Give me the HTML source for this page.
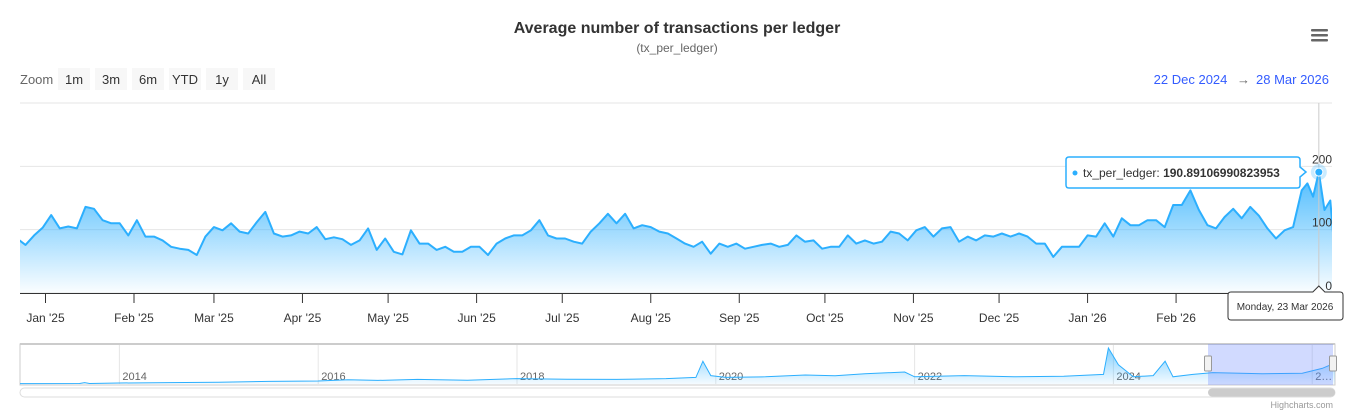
<!DOCTYPE html>
<html><head><meta charset="utf-8">
<style>
body{margin:0;background:#fff;font-family:"Liberation Sans",Arial,sans-serif;}
svg{display:block}
</style></head>
<body>
<svg id="c" width="1355" height="420" viewBox="0 0 1355 420">
<defs>
<linearGradient id="ag" x1="0" y1="0" x2="0" y2="1">
<stop offset="0" stop-color="#2caffe" stop-opacity="0.85"/>
<stop offset="1" stop-color="#2caffe" stop-opacity="0.02"/>
</linearGradient>
<linearGradient id="ng" x1="0" y1="0" x2="0" y2="1">
<stop offset="0" stop-color="#2caffe" stop-opacity="0.6"/>
<stop offset="1" stop-color="#2caffe" stop-opacity="0.05"/>
</linearGradient>
<clipPath id="pc"><rect x="20" y="95" width="1312" height="200"/></clipPath>
<clipPath id="nc"><rect x="20" y="343" width="1315" height="44"/></clipPath>
</defs>
<text x="677" y="33" text-anchor="middle" font-size="16" font-weight="bold" fill="#333">Average number of transactions per ledger</text>
<text x="677" y="52" text-anchor="middle" font-size="12" fill="#666">(tx_per_ledger)</text>
<g>
<rect x="1311" y="29" width="17" height="2.5" rx="1" fill="#666"/><rect x="1311" y="34" width="17" height="2.5" rx="1" fill="#666"/><rect x="1311" y="39" width="17" height="2.5" rx="1" fill="#666"/>
</g>
<text x="20" y="84" font-size="13" fill="#666">Zoom</text>
<g id="btns"></g>
<text x="1329" y="84" text-anchor="end" font-size="13" fill="#335cff">22 Dec 2024 <tspan fill="#666" dx="6">→</tspan><tspan dx="6">28 Mar 2026</tspan></text>
<g id="grid"></g>
<g id="plot" clip-path="url(#pc)"></g>
<g id="xax"></g>
<g id="nav"></g>
</svg>
<script>
// main series: day offsets from 22 Dec 2024 and values
const days=[0,3,6,9,12,15,18,21,24,27,30,33,36,39,42,45,48,51,54,57,60,63,66,69,72,75,78,81,84,87,90,93,96,99,102,105,108,111,114,117,120,123,126,129,132,135,138,141,144,147,150,153,156,159,162,165,168,171,174,177,180,183,186,189,192,195,198,201,204,207,210,213,216,219,222,225,228,231,234,237,240,243,246,249,252,255,258,261,264,267,270,273,276,279,282,285,288,291,294,297,300,303,306,309,312,315,318,321,324,327,330,333,336,339,342,345,348,351,354,357,360,363,366,369,372,375,378,381,384,387,390,393,396,399,402,405,408,411,414,417,420,423,426,429,432,435,438,441,444,447,450,452,454,456,458,460,461];
const values=[86,76,91,103,123,102,105,102,136,133,115,110,110,91,115,89,89,83,73,70,68,60,89,104,99,110,97,94,112,128,94,89,91,97,94,104,85,88,85,76,83,102,68,86,65,61,99,78,78,68,73,65,65,73,73,60,78,86,91,91,99,115,91,86,86,81,78,97,110,125,110,125,102,107,104,97,94,86,78,73,81,62,78,73,78,70,73,76,78,73,76,91,81,83,70,73,73,91,78,83,78,81,97,94,83,99,104,89,102,104,81,89,83,91,89,94,89,94,89,78,78,57,73,73,73,91,89,110,89,118,107,107,115,115,104,139,139,162,131,107,102,120,133,118,136,122,102,86,99,104,162,173,152,190.9,131,146,94];
const yTicks=[0,100,200,300];
const monthLabels=["Jan '25","Feb '25","Mar '25","Apr '25","May '25","Jun '25","Jul '25","Aug '25","Sep '25","Oct '25","Nov '25","Dec '25","Jan '26","Feb '26","Mar '26"];
const monthDays=[10,41,69,100,130,161,191,222,253,283,314,344,375,406,434];
// navigator: year fraction and value
const navYears=[2013,2013.6,2013.65,2013.7,2014,2014.5,2015,2015.5,2016,2016.3,2016.6,2017,2017.5,2018,2018.5,2019,2019.5,2019.8,2019.87,2019.95,2020.1,2020.5,2020.9,2021.2,2021.5,2021.9,2022,2022.5,2023,2023.5,2023.9,2023.95,2024.05,2024.2,2024.4,2024.52,2024.6,2024.8,2025,2025.5,2025.9,2026.1,2026.2,2026.24];
const navValues=[3,4,12,4,8,12,15,22,25,35,30,38,32,45,40,38,45,55,190,70,55,60,75,68,85,100,60,70,60,65,80,300,160,60,70,190,60,80,95,85,90,130,165,120];
const navYearTicks=[2014,2016,2018,2020,2022,2024,2026];

const NS="http://www.w3.org/2000/svg";
function mk(t,a,p){const e=document.createElementNS(NS,t);for(const k in a)e.setAttribute(k,a[k]);(p||document.getElementById('c')).appendChild(e);return e;}
const X=d=>45.5+(d-10)*2.855;
const Y=v=>293-v*0.6333;
const NX=y=>20+(y-2013)*99.4;
const NY=v=>384-v*0.12;

const bl=["1m","3m","6m","YTD","1y","All"];
const bg=document.getElementById('btns');
bl.forEach((b,i)=>{const x=58+i*37;
 const g=mk('g',{},bg);
 
 
 mk('rect',{x:x,y:68,width:32,height:22,fill:'#f7f7f7'},g);
 const t=mk('text',{x:x+16,y:84,'text-anchor':'middle','font-size':13,fill:'#333'},g);t.textContent=b;});

const gg=document.getElementById('grid');
yTicks.forEach(v=>{
 const l=mk('line',{x1:20,x2:1332,y1:Y(v),y2:Y(v),stroke:'#e6e6e6'},gg);
 
 
});

const pg=document.getElementById('plot');
let pts=days.map((d,i)=>X(d).toFixed(1)+','+Y(values[i]).toFixed(1));
const area=mk('path',{d:'M'+X(days[0])+','+Y(0)+' L'+pts.join(' L')+' L'+X(days[days.length-1])+','+Y(0)+'Z',fill:'url(#ag)'},pg);


const line=mk('path',{d:'M'+pts.join(' L'),fill:'none',stroke:'#2caffe','stroke-width':2,'stroke-linejoin':'round'},pg);



const xg=document.getElementById('xax');
mk('line',{x1:20,x2:1332,y1:293.5,y2:293.5,stroke:'#333'},xg);
monthDays.forEach((d,i)=>{
 mk('line',{x1:X(d),x2:X(d),y1:293,y2:303,stroke:'#333'},xg);
 if(i<14){const t=mk('text',{x:X(d),y:322,'text-anchor':'middle','font-size':12,fill:'#333'},xg);t.textContent=monthLabels[i];
 
 }
});
yTicks.forEach(v=>{ if(v<300){const t=mk('text',{x:1332,y:Y(v)-3,'text-anchor':'end','font-size':12,fill:'#333'},xg);t.textContent=v;
 
 }});
// crosshair + tooltip at max point
const hi=values.indexOf(190.9);const hx=X(days[hi]),hy=Y(values[hi]);
mk('line',{x1:hx,x2:hx,y1:103,y2:293,stroke:'#ccc'},xg);
mk('circle',{cx:hx,cy:hy,r:8,fill:'#2caffe','fill-opacity':0.25},xg);
const mkr=mk('circle',{cx:hx,cy:hy,r:4,fill:'#2caffe',stroke:'#fff','stroke-width':1},xg);


const tg=mk('g',{},xg);


mk('path',{d:'M1069,157 H1297 Q1300,157 1300,160 V167 L1306,172 L1300,177 V185 Q1300,188 1297,188 H1069 Q1066,188 1066,185 V160 Q1066,157 1069,157 Z',fill:'#fff',stroke:'#2caffe','stroke-width':1.5},tg);
mk('circle',{cx:1075,cy:173,r:2.5,fill:'#2caffe'},tg);
const tt=mk('text',{x:1083,y:177,'font-size':12,fill:'#333'},tg);
tt.innerHTML='tx_per_ledger: <tspan font-weight="bold">190.89106990823953</tspan>';
const dg=mk('g',{},xg);


mk('path',{d:'M1231,292 H'+(hx-6)+' L'+hx+',286 L'+(hx+6)+',292 H1340 Q1343,292 1343,295 V317 Q1343,320 1340,320 H1231 Q1228,320 1228,317 V295 Q1228,292 1231,292 Z',fill:'#fff',stroke:'#333','stroke-width':1},dg);
const dt=mk('text',{x:1285,y:310,'text-anchor':'middle','font-size':10,fill:'#333'},dg);dt.textContent='Monday, 23 Mar 2026';

// navigator
const ng=document.getElementById('nav');
mk('rect',{x:20,y:344,width:1315,height:41,fill:'#fff',stroke:'#ccc'},ng);
navYearTicks.forEach(y=>{
 mk('line',{x1:NX(y),x2:NX(y),y1:344,y2:385,stroke:'#e6e6e6'},ng);
 const t=mk('text',{x:NX(y)+3,y:380,'font-size':11,fill:'#666'},ng);t.textContent=y===2026?'2…':y;
 
 
});
mk('line',{x1:20,x2:1335,y1:344,y2:344,stroke:'#ccc','stroke-width':2},ng);
const npts=navYears.map((y,i)=>NX(y).toFixed(1)+','+NY(navValues[i]).toFixed(1));
const nclip=mk('g',{'clip-path':'url(#nc)'},ng);
mk('path',{d:'M'+NX(navYears[0])+','+NY(0)+' L'+npts.join(' L')+' L'+NX(navYears[navYears.length-1])+','+NY(0)+'Z',fill:'url(#ng)'},nclip);
const nl=mk('path',{d:'M'+npts.join(' L'),fill:'none',stroke:'#2caffe','stroke-width':1},nclip);


const sel=mk('rect',{x:1208,y:344,width:125,height:41,fill:'#6685ff','fill-opacity':0.3},ng);


[1208,1333].forEach(x=>{const h=mk('rect',{x:x-3.5,y:356,width:7,height:15,rx:1,fill:'#f2f2f2',stroke:'#999'},ng);
 
 });
const sb=mk('rect',{x:20,y:388,width:1315,height:9,rx:4.5,fill:'#fff',stroke:'#ddd'},ng);


const th=mk('rect',{x:1208,y:388.5,width:127,height:8,rx:4,fill:'#ccc'},ng);


const cr=mk('text',{x:1333,y:408,'text-anchor':'end','font-size':9,fill:'#999'},ng);cr.textContent='Highcharts.com';


</script>
</body></html>
